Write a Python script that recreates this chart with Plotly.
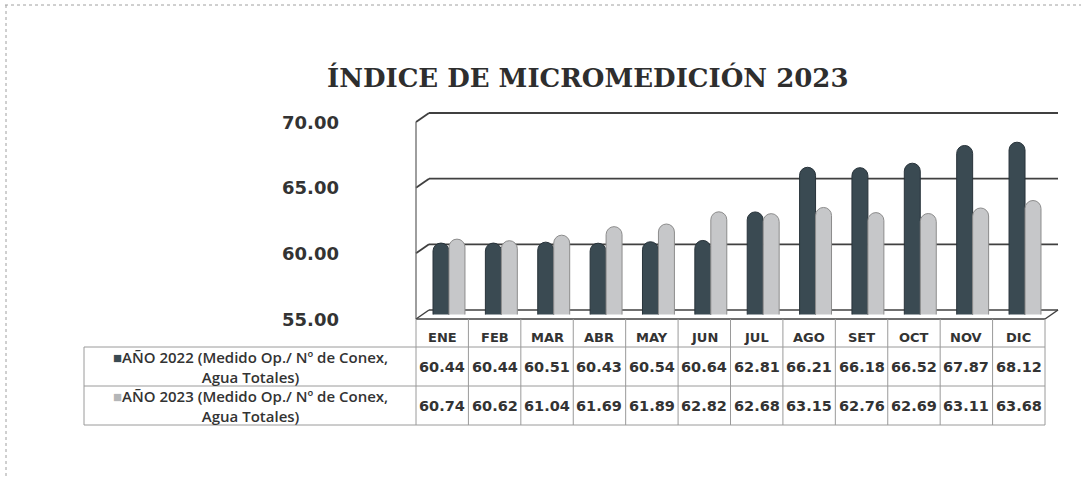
import plotly.graph_objects as go

# ---------------- data ----------------
months = ["ENE", "FEB", "MAR", "ABR", "MAY", "JUN", "JUL", "AGO", "SET", "OCT", "NOV", "DIC"]
values_2022 = [60.44, 60.44, 60.51, 60.43, 60.54, 60.64, 62.81, 66.21, 66.18, 66.52, 67.87, 68.12]
values_2023 = [60.74, 60.62, 61.04, 61.69, 61.89, 62.82, 62.68, 63.15, 62.76, 62.69, 63.11, 63.68]
series_names = ["AÑO 2022 (Medido Op./ Nº de Conex,<br>Agua Totales)",
                "AÑO 2023 (Medido Op./ Nº de Conex,<br>Agua Totales)"]
tick_vals = [55, 60, 65, 70]
tick_text = ["55.00", "60.00", "65.00", "70.00"]
title_text = "ÍNDICE DE MICROMEDICIÓN 2023"

# ---------------- layout helpers ----------------
W, H = 1081, 477
Y_BOT_PX, Y_TOP_PX = 314.5, 117.5      # pixel rows of the y-axis range ends
Y_MIN, Y_MAX = tick_vals[0], tick_vals[-1]
DEPTH = 4.5                            # half depth of the 3-D wall, pixels

def X(px):
    return px / W
def Y(py):
    return 1 - py / H
def ypx(v):
    return Y_BOT_PX - (v - Y_MIN) * (Y_BOT_PX - Y_TOP_PX) / (Y_MAX - Y_MIN)

DARK = "#3a4a52"
LIGHT = "#c6c7c9"
LINE = "#404040"
TLINE = "#9a9a9a"
TXT = "#333333"

fig = go.Figure()
fig.add_trace(go.Bar(x=months, y=values_2022, name="2022",
                     marker=dict(color=DARK, line=dict(color="#28333a", width=1), cornerradius=8)))
fig.add_trace(go.Bar(x=months, y=values_2023, name="2023",
                     marker=dict(color=LIGHT, line=dict(color="#8c8c8c", width=1), cornerradius=8)))

WALL_L, WALL_B = 416, 429          # front / back x of left wall
RIGHT_F, RIGHT_B = 1045, 1058      # front / back x of right end

def seg(x0, y0, x1, y1, color=LINE, width=1.8, layer="below", dash="solid"):
    return dict(type="line", xref="paper", yref="paper", x0=X(x0), y0=Y(y0), x1=X(x1), y1=Y(y1),
                line=dict(color=color, width=width, dash=dash), layer=layer)

shapes = []
# wall gridlines (back) with perspective diagonal at the left
for v in tick_vals[1:]:
    yb = ypx(v) - DEPTH
    yf = ypx(v) + DEPTH
    shapes.append(seg(WALL_B, yb, RIGHT_B, yb))
    shapes.append(seg(WALL_L, yf, WALL_B, yb))
# floor
yb = ypx(Y_MIN) - DEPTH
yf = ypx(Y_MIN) + DEPTH
shapes.append(seg(WALL_B, yb, RIGHT_B, yb, width=1.5))
shapes.append(seg(WALL_L, yf, WALL_B, yb, width=1.5))
shapes.append(seg(RIGHT_F, yf, RIGHT_B, yb, width=1.5))
shapes.append(seg(WALL_L, yf, RIGHT_F, yf, width=1.3, layer="above"))
# left wall edge
shapes.append(seg(WALL_L, ypx(Y_MAX) + DEPTH, WALL_L, yf, color="#6a6a6a", width=1.3))

# data table
t_top, r1, r2, r3 = yf, 347, 386, 425
lbl_left = 84
shapes.append(seg(WALL_L, t_top, WALL_L, r3, color=TLINE, width=1, layer="above"))
shapes.append(seg(RIGHT_F, t_top, RIGHT_F, r3, color=TLINE, width=1, layer="above"))
shapes.append(seg(lbl_left, r1, lbl_left, r3, color=TLINE, width=1, layer="above"))
for ry in (r1, r2, r3):
    shapes.append(seg(lbl_left, ry, RIGHT_F, ry, color=TLINE, width=1, layer="above"))
for i in range(1, len(months)):
    shapes.append(dict(type="line", xref="x2", yref="paper", x0=i - 0.5, x1=i - 0.5, y0=Y(t_top), y1=Y(r3),
                       line=dict(color=TLINE, width=1)))

# outer (scanned) border
shapes.append(seg(5, 5, W, 5, color="#a0a0a0", width=1, dash="dot", layer="above"))
shapes.append(seg(6, 5, 6, H, color="#a0a0a0", width=1, dash="dot", layer="above"))

annotations = []
annotations.append(dict(text=title_text, xref="paper", yref="paper", x=X(588), y=Y(77), xanchor="center",
                        yanchor="middle", showarrow=False,
                        font=dict(family="DejaVu Serif", size=26, color="#2e2e2e", weight="bold")))
for v, t in zip(tick_vals, tick_text):
    annotations.append(dict(text=t, xref="paper", yref="paper", x=X(341), y=Y(ypx(v) + DEPTH),
                            xanchor="right", yanchor="middle", showarrow=False,
                            font=dict(family="DejaVu Sans", size=18, color=TXT, weight="bold")))
for i, m in enumerate(months):
    annotations.append(dict(text=m, xref="x2", yref="paper", x=i, y=Y(337), xanchor="center", yanchor="middle",
                            showarrow=False, font=dict(family="DejaVu Sans", size=13, color=TXT, weight="bold")))
for vals, ry in ((values_2022, (r1 + r2) / 2), (values_2023, (r2 + r3) / 2)):
    for i, v in enumerate(vals):
        annotations.append(dict(text=f"{v:.2f}", xref="x2", yref="paper", x=i, y=Y(ry), xanchor="center",
                                yanchor="middle", showarrow=False,
                                font=dict(family="DejaVu Sans", size=14.5, color=TXT, weight="bold")))
markers = [f"<span style='color:{DARK}'>■</span>", "<span style='color:#b4b6b8'>■</span>"]
for mk, name, (a, b) in zip(markers, series_names, ((r1, r2), (r2, r3))):
    annotations.append(dict(text=mk + name, xref="paper", yref="paper", x=X((lbl_left + WALL_L) / 2),
                            y=Y((a + b) / 2), xanchor="center", yanchor="middle",
                            showarrow=False, align="center",
                            font=dict(family="Open Sans", size=15, color=TXT, weight=600)))

fig.update_layout(
    width=W, height=H,
    margin=dict(l=0, r=0, t=0, b=0),
    paper_bgcolor="white", plot_bgcolor="rgba(0,0,0,0)",
    showlegend=False,
    barmode="group", bargap=0.39, bargroupgap=0,
    xaxis=dict(domain=[X(422.8), X(1051.2)], showticklabels=False, showgrid=False, zeroline=False,
               showline=False, categoryorder="array", categoryarray=months),
    yaxis=dict(domain=[Y(Y_BOT_PX), Y(Y_TOP_PX)], range=[Y_MIN, Y_MAX], showticklabels=False,
               showgrid=False, zeroline=False, showline=False),
    xaxis2=dict(domain=[X(WALL_L), X(RIGHT_F)], range=[-0.5, len(months) - 0.5], anchor="y", visible=False),
    shapes=shapes, annotations=annotations,
)

fig.write_html("out.html", config={"displayModeBar": False},
               post_script="document.body.style.margin='0';document.body.style.overflow='hidden';")
